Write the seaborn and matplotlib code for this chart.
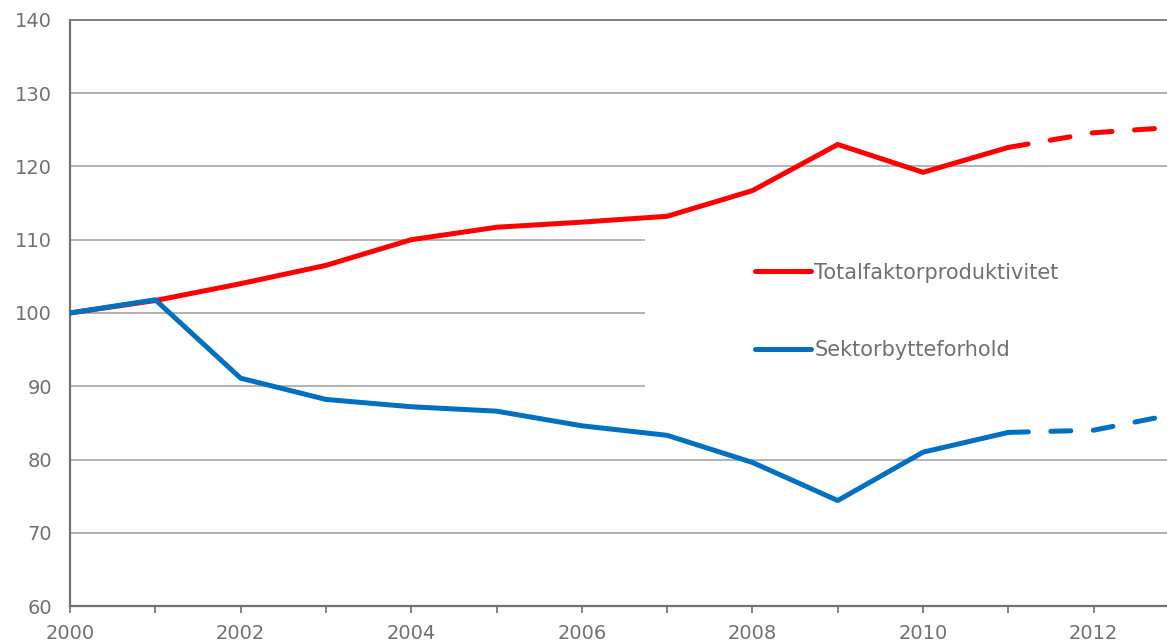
import matplotlib
matplotlib.use("Agg")
import matplotlib.pyplot as plt
import matplotlib.transforms as mtransforms
from matplotlib.patches import Rectangle
import seaborn as sns
import pandas as pd

years = [2000, 2001, 2002, 2003, 2004, 2005, 2006, 2007, 2008, 2009, 2010, 2011]
tfp = [100.0, 101.7, 104.0, 106.5, 110.0, 111.7, 112.4, 113.2, 116.7, 123.0, 119.2, 122.6]
sbf = [100.0, 101.8, 91.1, 88.2, 87.2, 86.6, 84.6, 83.3, 79.6, 74.4, 81.0, 83.7]

proj_years = [2011, 2012, 2013]
tfp_proj = [122.6, 124.6, 125.4]
sbf_proj = [83.7, 84.0, 86.3]

names = ["Totalfaktorproduktivitet", "Sektorbytteforhold"]
colors = ["#FF0000", "#0070C0"]
grey = "#707070"

hist = pd.DataFrame({"year": years * 2,
                     "value": tfp + sbf,
                     "serie": [names[0]] * len(years) + [names[1]] * len(years)})
proj = pd.DataFrame({"year": proj_years * 2,
                     "value": tfp_proj + sbf_proj,
                     "serie": [names[0]] * 3 + [names[1]] * 3})

sns.set_theme(style="white")
plt.rcParams["font.family"] = ["DejaVu Sans"]

fig = plt.figure(figsize=(11.67, 6.43), dpi=100)
ax = fig.add_axes([0.060, 0.0575, 0.940, 0.9115])

pal = dict(zip(names, colors))
sns.lineplot(data=hist, x="year", y="value", hue="serie", palette=pal,
             linewidth=3.6, ax=ax, legend=True, zorder=3,
             solid_capstyle="round")
sns.lineplot(data=proj, x="year", y="value", hue="serie", palette=pal,
             linewidth=3.6, ax=ax, legend=False, zorder=3,
             linestyle=(0, (4, 4.5)), dash_capstyle="round")

ax.set_xlim(2000, 2012.86)
ax.set_ylim(60, 140)
ax.set_yticks(range(60, 141, 10))
ax.set_xticks(range(2000, 2013))
ax.set_xticklabels([str(y) if y % 2 == 0 else "" for y in range(2000, 2013)])
ax.set_xlabel("")
ax.set_ylabel("")

ax.grid(axis="y", color="#a6a6a6", linewidth=1.2, zorder=0.5)
ax.set_axisbelow(True)
ax.tick_params(axis="y", length=0, pad=13, labelsize=14, labelcolor=grey)
ax.tick_params(axis="x", bottom=True, length=5, width=1.2, color=grey,
               pad=8, labelsize=14, labelcolor=grey)

for side in ["left", "bottom"]:
    ax.spines[side].set_color(grey)
    ax.spines[side].set_linewidth(1.6)
ax.spines["top"].set_color("#808080")
ax.spines["top"].set_linewidth(1.4)
ax.spines["right"].set_visible(False)

# white block behind the legend (x in axes units, y in data units)
trans = mtransforms.blended_transform_factory(ax.transAxes, ax.transData)
ax.add_patch(Rectangle((0.524, 87.5), 0.48, 24.0, transform=trans,
                       facecolor="white", edgecolor="none", zorder=1.5))

leg = ax.legend(loc="center left", bbox_to_anchor=(0.6245, 0.503),
                frameon=False, fontsize=15, handlelength=2.7,
                handletextpad=0.15, labelspacing=2.75, borderpad=0,
                borderaxespad=0)
for t in leg.get_texts():
    t.set_color(grey)
for h in leg.legend_handles:
    h.set_linewidth(3.6)
    h.set_linestyle("-")
    h.set_solid_capstyle("round")

fig.savefig("out.png", dpi=100)
